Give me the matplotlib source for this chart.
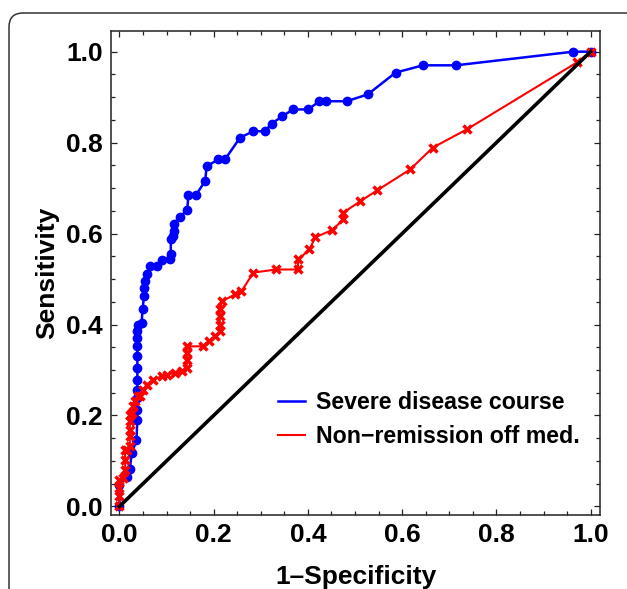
import matplotlib
matplotlib.use("Agg")
import matplotlib.pyplot as plt
from matplotlib.lines import Line2D
from matplotlib.patches import FancyBboxPatch
from matplotlib.ticker import MultipleLocator
from matplotlib.transforms import IdentityTransform

# ROC points
severe_fpr = [0, 0, 0.015, 0.022, 0.026, 0.036, 0.038, 0.038, 0.038, 0.038, 0.038,
              0.038, 0.038, 0.038, 0.038, 0.038, 0.040, 0.047, 0.049, 0.052, 0.052,
              0.054, 0.059, 0.065, 0.080, 0.090, 0.107, 0.109, 0.109, 0.114, 0.116,
              0.116, 0.128, 0.144, 0.146, 0.162, 0.182, 0.185, 0.210, 0.224, 0.256,
              0.284, 0.309, 0.323, 0.346, 0.368, 0.401, 0.424, 0.438, 0.482, 0.527,
              0.586, 0.644, 0.714, 0.963, 1.0]
severe_tpr = [0, 0.048, 0.065, 0.082, 0.117, 0.145, 0.190, 0.213, 0.239, 0.257, 0.279,
              0.305, 0.330, 0.352, 0.370, 0.385, 0.400, 0.403, 0.433, 0.462, 0.481,
              0.495, 0.510, 0.528, 0.528, 0.541, 0.543, 0.556, 0.588, 0.594, 0.605,
              0.622, 0.637, 0.651, 0.684, 0.684, 0.716, 0.748, 0.763, 0.763, 0.811,
              0.825, 0.825, 0.842, 0.858, 0.873, 0.873, 0.891, 0.891, 0.891, 0.906,
              0.954, 0.970, 0.970, 1.0, 1.0]

nonrem_fpr = [0, 0, 0, 0, 0.008, 0.012, 0.012, 0.012, 0.016, 0.022, 0.022, 0.022,
              0.022, 0.022, 0.026, 0.029, 0.033, 0.040, 0.044, 0.051, 0.058, 0.072,
              0.090, 0.100, 0.118, 0.132, 0.143, 0.143, 0.143, 0.143, 0.178, 0.189,
              0.203, 0.213, 0.213, 0.213, 0.213, 0.217, 0.245, 0.259, 0.284, 0.332,
              0.378, 0.380, 0.403, 0.416, 0.452, 0.475, 0.475, 0.511, 0.547, 0.617,
              0.665, 0.737, 0.972, 1.0]
nonrem_tpr = [0, 0.022, 0.040, 0.059, 0.063, 0.081, 0.103, 0.125, 0.125, 0.132, 0.154,
              0.169, 0.187, 0.202, 0.206, 0.220, 0.231, 0.242, 0.242, 0.257, 0.268,
              0.279, 0.286, 0.290, 0.294, 0.297, 0.305, 0.323, 0.338, 0.352, 0.352,
              0.363, 0.374, 0.385, 0.400, 0.418, 0.433, 0.451, 0.466, 0.473, 0.514,
              0.521, 0.521, 0.543, 0.565, 0.592, 0.608, 0.631, 0.646, 0.671, 0.695,
              0.741, 0.789, 0.829, 0.977, 1.0]

labels = ["Severe disease course", "Non\u2212remission off med."]

plt.rcParams['font.family'] = ['Liberation Sans', 'DejaVu Sans']
plt.rcParams['font.weight'] = 'bold'

fig = plt.figure(figsize=(6.27, 5.89), dpi=100)
ax = fig.add_axes([0.177, 0.1256, 0.78, 0.8214])

ax.plot(severe_fpr, severe_tpr, color='#0000ff', lw=1.8, marker='o', ms=6, zorder=3)
ax.plot(nonrem_fpr, nonrem_tpr, color='#ff0000', lw=1.5, marker='x', ms=6.3, mew=2.5, zorder=4)
ax.plot([0, 1], [0, 1], color='black', lw=2.6, zorder=5)

ax.set_xlim(-0.018, 1.02)
ax.set_ylim(-0.019, 1.045)
ax.xaxis.set_major_locator(MultipleLocator(0.2))
ax.yaxis.set_major_locator(MultipleLocator(0.2))
ax.xaxis.set_minor_locator(MultipleLocator(0.05))
ax.yaxis.set_minor_locator(MultipleLocator(0.05))
ax.tick_params(which='both', direction='in', top=True, right=True, color='#222222', width=0.9)
ax.tick_params(which='major', length=4.5, labelsize=19, pad=6)
ax.tick_params(which='minor', length=2.6)
for s in ax.spines.values():
    s.set_linewidth(1.1)
    s.set_color('#222222')

ax.set_xlabel("1\u2013Specificity", fontsize=19, fontweight='bold', labelpad=13)
ax.set_ylabel("Sensitivity", fontsize=19, fontweight='bold', labelpad=5)

handles = [Line2D([], [], color='#0000ff', lw=1.8), Line2D([], [], color='#ff0000', lw=1.5)]
ax.legend(handles, labels, loc='center left', bbox_to_anchor=(0.3415, 0.197),
          frameon=False, fontsize=16.7, borderpad=0, borderaxespad=0,
          handlelength=1.15, handletextpad=0.5, labelspacing=0.45)

# rounded outer frame of the original panel
frame = FancyBboxPatch((9, -40), 700, 616, boxstyle="round,pad=0,rounding_size=14",
                       transform=IdentityTransform(), fill=False, ec='#333333', lw=1.1)
fig.patches.append(frame)

fig.savefig("out.png", dpi=100)
